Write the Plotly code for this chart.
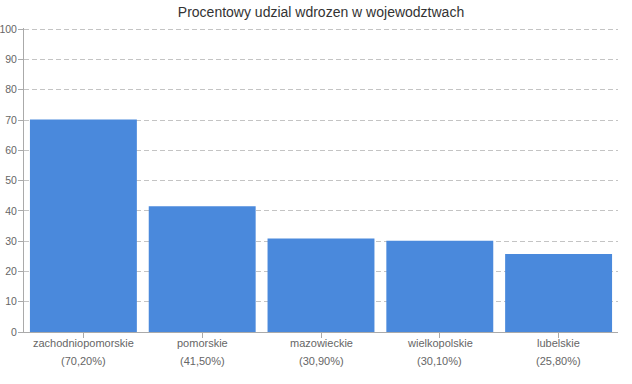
import plotly.graph_objects as go

categories = ["zachodniopomorskie", "pomorskie", "mazowieckie", "wielkopolskie", "lubelskie"]
values = [70.2, 41.5, 30.9, 30.1, 25.8]
y_ticks = [0, 10, 20, 30, 40, 50, 60, 70, 80, 90, 100]

pct_labels = ["(" + f"{v:.2f}".replace(".", ",") + "%)" for v in values]

font_family = "Liberation Sans, Arial, sans-serif"
label_font = dict(family=font_family, size=11, color="#666666")

fig = go.Figure()
fig.add_trace(go.Bar(
    x=categories,
    y=values,
    marker=dict(color="#4a89dc", line=dict(width=0)),
    hoverinfo="x+y",
))

for cat, lab in zip(categories, pct_labels):
    fig.add_annotation(
        x=cat, y=0, xref="x", yref="paper",
        text=cat, showarrow=False,
        yanchor="middle", yshift=-11,
        font=label_font,
    )
    fig.add_annotation(
        x=cat, y=0, xref="x", yref="paper",
        text=lab, showarrow=False,
        yanchor="middle", yshift=-29,
        font=label_font,
    )

fig.update_layout(
    width=632, height=384,
    margin=dict(l=24, r=14, t=28, b=52, autoexpand=False),
    paper_bgcolor="white", plot_bgcolor="white",
    bargap=0.1,
    showlegend=False,
    title=dict(
        text="Procentowy udzial wdrozen w wojewodztwach",
        x=0.5, xanchor="center", y=1 - 12 / 384, yanchor="middle",
        xref="paper",
        font=dict(family=font_family, size=14, color="#333333"),
    ),
    font=dict(family=font_family, size=11, color="#666666"),
    xaxis=dict(
        automargin=False,
        showline=True, linecolor="#aaaaaa", linewidth=1,
        ticks="outside", ticklen=5, tickcolor="#aaaaaa",
        showticklabels=False,
        showgrid=False,
    ),
    yaxis=dict(
        automargin=False,
        range=[0, 100.4],
        tickvals=y_ticks,
        showline=True, linecolor="#aaaaaa", linewidth=1,
        ticks="outside", ticklen=5, tickcolor="#aaaaaa",
        ticklabelstandoff=-1,
        showgrid=True, gridcolor="#c4c4c4", griddash="5px,3px", gridwidth=1,
        zeroline=False,
        tickfont=dict(family=font_family, size=10.5, color="#666666"),
    ),
)

fig.write_html(
    "out.html",
    config={"displayModeBar": False},
    post_script="document.body.style.margin='0';document.body.style.overflow='hidden';",
)
